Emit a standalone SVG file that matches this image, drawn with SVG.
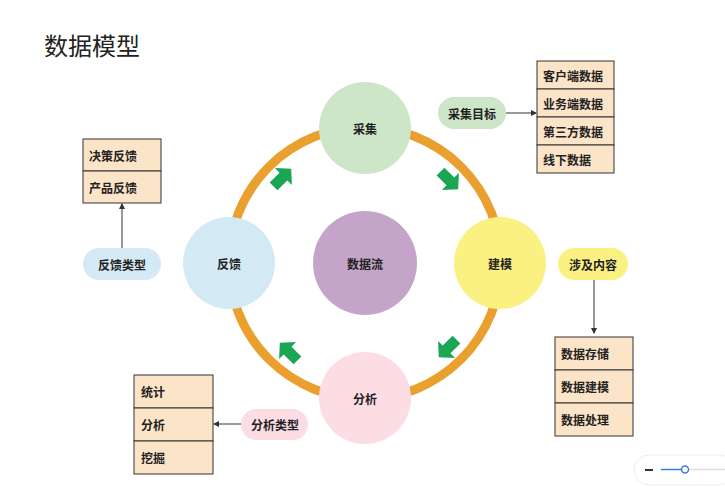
<svg xmlns="http://www.w3.org/2000/svg" width="725" height="500" viewBox="0 0 725 500">
<style>
text{font-family:"Noto Sans CJK SC","Noto Sans",sans-serif;font-size:12px;font-weight:bold;fill:#222;dominant-baseline:central}
.c{text-anchor:middle}
.box{fill:#FCE4C8;stroke:#333;stroke-width:1}
.ln{stroke:#333;stroke-width:1;fill:none;marker-end:url(#ah)}
.ga{fill:#1BA653}
</style>
<defs>
<marker id="ah" markerWidth="6" markerHeight="6" refX="5" refY="3" orient="auto"><path d="M0,0L6,3L0,6z" fill="#333"/></marker>
<polygon id="ga" points="-12,-5.5 2,-5.5 2,-12 13,0 2,12 2,5.5 -12,5.5"/>
</defs>
<rect width="725" height="500" fill="#fff"/>
<text x="44" y="44" style="font-size:24px;font-weight:normal">数据模型</text>
<g id="connectors">
<circle cx="365" cy="263" r="136" fill="none" stroke="#E9A02E" stroke-width="9"/>
<use href="#ga" class="ga" transform="translate(282,178) rotate(-45)"/>
<use href="#ga" class="ga" transform="translate(449,180) rotate(45)"/>
<use href="#ga" class="ga" transform="translate(448,348) rotate(135)"/>
<use href="#ga" class="ga" transform="translate(289,352) rotate(-135)"/>
<path class="ln" d="M506,113H536"/>
<path class="ln" d="M122,248V204"/>
<path class="ln" d="M594,280V333"/>
<path class="ln" d="M241,424H214"/>
</g>
<g id="n-caiji"><circle cx="365" cy="128" r="46" fill="#CDE6C7"/><text class="c" x="365" y="128">采集</text></g>
<g id="n-jianmo"><circle cx="500" cy="263" r="46" fill="#FBF183"/><text class="c" x="500" y="263">建模</text></g>
<g id="n-fenxi"><circle cx="365" cy="398" r="46" fill="#FBDDE3"/><text class="c" x="365" y="398">分析</text></g>
<g id="n-fankui"><circle cx="229" cy="263" r="46" fill="#D3EAF5"/><text class="c" x="229" y="263">反馈</text></g>
<g id="n-center"><circle cx="365" cy="263" r="52" fill="#C4A4C9"/><text class="c" x="365" y="263">数据流</text></g>
<g id="p-caiji"><rect x="438" y="97" width="68" height="32" rx="16" fill="#CDE6C7"/><text class="c" x="472" y="113">采集目标</text></g>
<g id="p-fankui"><rect x="83" y="248" width="78" height="32" rx="16" fill="#D3EAF5"/><text class="c" x="122" y="264">反馈类型</text></g>
<g id="p-jianmo"><rect x="558" y="248" width="70" height="32" rx="16" fill="#FBF183"/><text class="c" x="593" y="264">涉及内容</text></g>
<g id="p-fenxi"><rect x="241" y="409" width="67" height="31" rx="15.5" fill="#FBDDE3"/><text class="c" x="275" y="424">分析类型</text></g>
<g id="b-caiji">
<rect class="box" x="537" y="61" width="77" height="28"/><text x="543" y="75">客户端数据</text>
<rect class="box" x="537" y="89" width="77" height="28"/><text x="543" y="103">业务端数据</text>
<rect class="box" x="537" y="117" width="77" height="28"/><text x="543" y="131">第三方数据</text>
<rect class="box" x="537" y="145" width="77" height="28"/><text x="543" y="159">线下数据</text>
</g>
<g id="b-fankui">
<rect class="box" x="83" y="139" width="78" height="32"/><text x="89" y="155">决策反馈</text>
<rect class="box" x="83" y="171" width="78" height="32"/><text x="89" y="187">产品反馈</text>
</g>
<g id="b-jianmo">
<rect class="box" x="555" y="337" width="78" height="33"/><text x="561" y="353">数据存储</text>
<rect class="box" x="555" y="370" width="78" height="33"/><text x="561" y="386">数据建模</text>
<rect class="box" x="555" y="403" width="78" height="33"/><text x="561" y="419">数据处理</text>
</g>
<g id="b-fenxi">
<rect class="box" x="134" y="375" width="79" height="33"/><text x="141" y="391">统计</text>
<rect class="box" x="134" y="408" width="79" height="33"/><text x="141" y="424">分析</text>
<rect class="box" x="134" y="441" width="79" height="33"/><text x="141" y="457">挖掘</text>
</g>
<g id="zoom-widget">
<rect x="634" y="455" width="100" height="30" rx="15" fill="#fff" stroke="#eee"/>
<path d="M645,470H653" stroke="#333" stroke-width="2"/>
<path d="M661,469.5H685" stroke="#3B7DDD" stroke-width="1.5"/>
<path d="M689,469.5H725" stroke="#ddd" stroke-width="1.5"/>
<circle cx="685" cy="469.5" r="3.5" fill="#fff" stroke="#3B7DDD" stroke-width="1.5"/>
</g>
</svg>
